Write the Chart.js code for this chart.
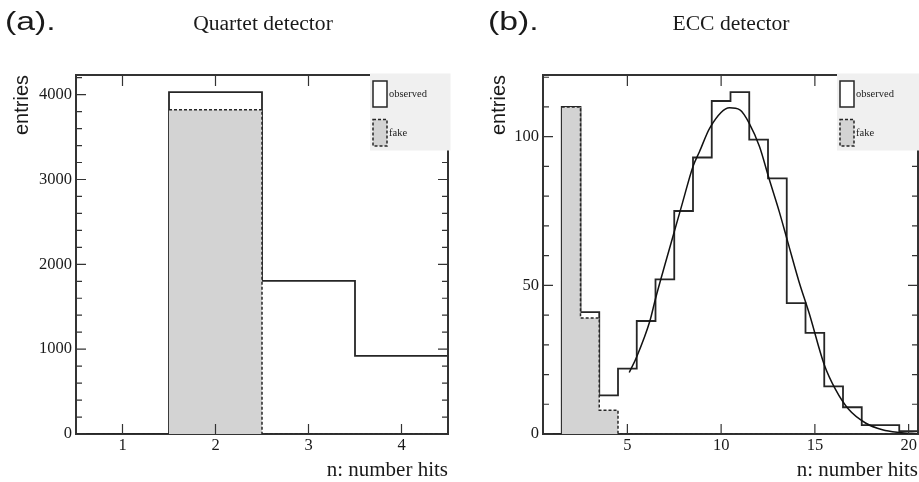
<!DOCTYPE html>
<html><head><meta charset="utf-8">
<script src="https://cdn.jsdelivr.net/npm/chart.js@4.4.1/dist/chart.umd.min.js"></script>
<style>
html,body{margin:0;padding:0;background:#fff;width:919px;height:482px;overflow:hidden;position:relative}
canvas{position:absolute;top:0}
#cA{left:0}
#cB{left:460px}
.lab{position:absolute;white-space:nowrap;color:#1a1a1a;line-height:1}
.panel{font-family:"Liberation Sans",Arial,sans-serif;font-size:25px;transform-origin:left top;transform:scaleX(1.35)}
.ttl{font-family:"Liberation Serif","Times New Roman",serif;font-size:20px;transform:translateX(-50%) scaleX(1.08)}
</style></head>
<body>
<canvas id="cA" width="460" height="482"></canvas>
<canvas id="cB" width="459" height="482"></canvas>
<div class="lab panel" style="left:5px;top:9px">(a).</div>
<div class="lab ttl" style="left:263px;top:13px">Quartet detector</div>
<div class="lab panel" style="left:488px;top:9px">(b).</div>
<div class="lab ttl" style="left:731px;top:13px">ECC detector</div>
<script>
// ---------- data: (a) Quartet detector ----------
const binsA = [1, 2, 3, 4];
const observedA = [0, 4030, 1805, 920];
const fakeBinsA = [2, 3, 4];
const fakeA = [3823, 0, 0];
const xTicksA = [1, 2, 3, 4];
const yTicksA = [0, 1000, 2000, 3000, 4000];
const yMinorStepA = 200;

// ---------- data: (b) ECC detector ----------
const binsB = [1,2,3,4,5,6,7,8,9,10,11,12,13,14,15,16,17,18,19,20];
const observedB = [0,110,41,13,22,38,52,75,93,112,115,99,86,44,34,16,9,3,3,1];
const fakeBinsB = [2,3,4,5,6,7,8,9,10,11,12,13,14,15,16,17,18,19,20];
const fakeB = [110,39,8,0,0,0,0,0,0,0,0,0,0,0,0,0,0,0,0];
const fitX = [5.1, 5.5, 6.2, 6.5, 7.05, 7.5, 7.95, 8.5, 8.85, 9.4, 10.45, 11.0, 11.5, 12.05, 12.55, 13.1, 13.55, 14.15, 14.7, 15.5, 16.1, 16.8, 17.7, 18.6, 19.5, 20.5];
const fitY = [20.7, 26, 38, 45.5, 58, 68, 78, 90, 95, 103, 109.7, 109, 104.5, 96.6, 86, 74.8, 64.7, 51.3, 40.5, 23.3, 15, 8.3, 3.7, 1.4, 0.5, 0.1];
const xTicksB = [5, 10, 15, 20];
const yTicksB = [0, 50, 100];
const yMinorStepB = 10;

const legendLabels = ['observed', 'fake'];
const xTitle = 'n: number hits';
const yTitle = 'entries';

// ---------- helpers ----------
const INK = '#262626';
const FILL = '#d3d3d3';
const SERIF = "'Liberation Serif','Times New Roman',serif";
const SANS = "'Liberation Sans',Arial,sans-serif";

function stepPoints(bins, vals) {
  const pts = [];
  bins.forEach((b, i) => { pts.push({x: b - 0.5, y: vals[i]}); pts.push({x: b + 0.5, y: vals[i]}); });
  return pts;
}

function makeDecor(cfg) {
  return {
    id: 'decor' + cfg.name,
    afterDraw(chart) {
      const ctx = chart.ctx, a = chart.chartArea, xs = chart.scales.x, ys = chart.scales.y;
      ctx.save();
      // mirrored frame (top, right)
      ctx.strokeStyle = '#333'; ctx.lineWidth = 2;
      ctx.beginPath(); ctx.moveTo(a.left, a.top); ctx.lineTo(a.right, a.top); ctx.lineTo(a.right, a.bottom); ctx.stroke();
      // inward ticks
      ctx.lineWidth = 1.2; ctx.strokeStyle = '#333';
      ctx.beginPath();
      xs.ticks.forEach(t => {
        const p = xs.getPixelForValue(t.value);
        ctx.moveTo(p, a.bottom); ctx.lineTo(p, a.bottom - 10);
        ctx.moveTo(p, a.top); ctx.lineTo(p, a.top + 11);
      });
      const majors = ys.ticks.map(t => t.value);
      for (let v = 0; v <= ys.max + 1e-9; v += cfg.minorStep) {
        const isMajor = majors.includes(v);
        const len = isMajor ? 10 : 6;
        const p = ys.getPixelForValue(v);
        ctx.moveTo(a.left, p); ctx.lineTo(a.left + len, p);
        ctx.moveTo(a.right, p); ctx.lineTo(a.right - len, p);
      }
      ctx.stroke();
      // legend box
      const x0 = a.right - cfg.legendW;
      ctx.fillStyle = '#f0f0f0';
      ctx.fillRect(x0, a.top - 1.5, cfg.legendW + 2.5, 77);
      // observed swatch
      ctx.fillStyle = '#ffffff'; ctx.strokeStyle = INK; ctx.lineWidth = 1.5; ctx.setLineDash([]);
      ctx.fillRect(x0 + 3, a.top + 6, 14, 26); ctx.strokeRect(x0 + 3, a.top + 6, 14, 26);
      // fake swatch
      ctx.fillStyle = FILL; ctx.setLineDash([3, 2]);
      ctx.fillRect(x0 + 3, a.top + 44.5, 14, 26.5); ctx.strokeRect(x0 + 3, a.top + 44.5, 14, 26.5);
      ctx.setLineDash([]);
      ctx.fillStyle = '#222'; ctx.font = '10.5px ' + SERIF; ctx.textBaseline = 'middle'; ctx.textAlign = 'left';
      ctx.fillText(legendLabels[0], x0 + 19, a.top + 19.5);
      ctx.fillText(legendLabels[1], x0 + 19, a.top + 58.5);
      ctx.restore();
    }
  };
}

function makeChart(el, o) {
  const datasets = [
    {label: legendLabels[0], data: stepPoints(o.bins, o.observed), borderColor: INK, borderWidth: 1.8,
     pointRadius: 0, fill: false, tension: 0, order: 2},
    {label: legendLabels[1], data: stepPoints(o.fakeBins, o.fake), borderColor: INK, borderWidth: 1.5,
     borderDash: [3, 2], backgroundColor: FILL, fill: 'origin', pointRadius: 0, tension: 0, order: 1}
  ];
  if (o.fitX) {
    datasets.push({label: 'fit', data: o.fitX.map((x, i) => ({x: x, y: o.fitY[i]})), borderColor: '#111',
      borderWidth: 1.5, pointRadius: 0, fill: false, cubicInterpolationMode: 'monotone', order: 0});
  }
  return new Chart(el, {
    type: 'line',
    data: {datasets},
    options: {
      responsive: false, animation: false, devicePixelRatio: 1,
      layout: {padding: {left: 0, top: 75, right: o.padRight, bottom: 0}},
      plugins: {legend: {display: false}, tooltip: {enabled: false}},
      scales: {
        x: {
          type: 'linear', position: 'bottom', min: o.xMin, max: o.xMax,
          afterBuildTicks: s => { s.ticks = o.xTicks.map(v => ({value: v})); },
          afterFit: s => { s.height = 48; },
          grid: {display: false, drawTicks: false},
          border: {display: true, color: '#333', width: 2},
          ticks: {font: {family: SERIF, size: 16.5}, color: '#1a1a1a', padding: 2, maxRotation: 0, autoSkip: false,
                  callback: v => String(v)},
          title: {display: true, text: xTitle, align: 'end', color: '#1a1a1a',
                  font: {family: SERIF, size: 21, lineHeight: 1}, padding: {top: 0, bottom: 1}}
        },
        y: {
          type: 'linear', min: 0, max: o.yMax,
          afterBuildTicks: s => { s.ticks = o.yTicks.map(v => ({value: v})); },
          afterFit: s => { s.width = o.yWidth; },
          grid: {display: false, drawTicks: false},
          border: {display: true, color: '#333', width: 2},
          ticks: {font: {family: SERIF, size: 16.5}, color: '#1a1a1a', padding: 4, autoSkip: false,
                  callback: v => String(v)},
          title: {display: true, text: yTitle, align: 'end', color: '#1a1a1a',
                  font: {family: SANS, size: 20, lineHeight: 1.2}, padding: {top: o.yTitlePad, bottom: 0}}
        }
      }
    },
    plugins: [makeDecor({name: o.name, minorStep: o.minorStep, legendW: o.legendW})]
  });
}

makeChart(document.getElementById('cA'), {
  name: 'A', bins: binsA, observed: observedA, fakeBins: fakeBinsA, fake: fakeA,
  xMin: 0.5, xMax: 4.5, yMax: Math.max(...observedA) * 1.05, xTicks: xTicksA, yTicks: yTicksA,
  minorStep: yMinorStepA, padRight: 12, yWidth: 76, yTitlePad: 10, legendW: 78
});
makeChart(document.getElementById('cB'), {
  name: 'B', bins: binsB, observed: observedB, fakeBins: fakeBinsB, fake: fakeB,
  fitX: fitX, fitY: fitY,
  xMin: 0.5, xMax: 20.5, yMax: Math.max(...observedB) * 1.05, xTicks: xTicksB, yTicks: yTicksB,
  minorStep: yMinorStepB, padRight: 1, yWidth: 83, yTitlePad: 27, legendW: 81
});
</script>
</body></html>
